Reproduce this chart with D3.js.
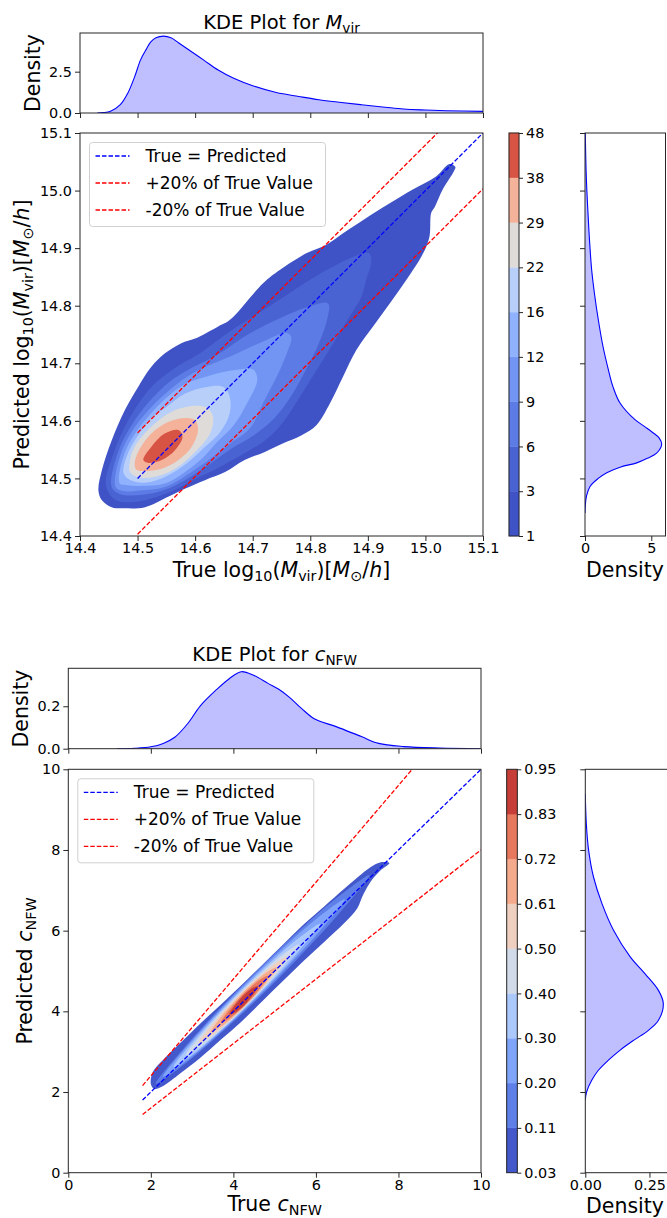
<!DOCTYPE html>
<html>
<head>
<meta charset="utf-8">
<script src="https://cdn.jsdelivr.net/npm/d3@7"></script>
<style>
  body { margin: 0; background: #fff; }
  svg { font-family: "DejaVu Sans", sans-serif; }
</style>
</head>
<body>
<svg id="chart" width="667" height="1218"></svg>
<script>
// ---------- data: virial mass panel ----------
const massTicks = [14.4, 14.5, 14.6, 14.7, 14.8, 14.9, 15.0, 15.1];

// marginal KDE of true mass (top)
const massTopX = [14.43, 14.44, 14.453, 14.47, 14.483, 14.495, 14.505, 14.515, 14.523, 14.532, 14.545,
  14.558, 14.571, 14.59, 14.615, 14.64, 14.667, 14.70, 14.741, 14.78, 14.815, 14.85, 14.889, 14.93,
  14.962, 15.0, 15.036, 15.1];
const massTopY = [0, 0.02, 0.1, 0.5, 1.2, 2.2, 3.2, 3.85, 4.3, 4.55, 4.65, 4.55, 4.25, 3.8, 3.2, 2.6, 2.1,
  1.65, 1.24, 1.0, 0.8, 0.65, 0.5, 0.35, 0.24, 0.18, 0.14, 0.1];

// marginal KDE of predicted mass (right)
const massRightY = [14.44, 14.452, 14.47, 14.486, 14.5, 14.51, 14.52, 14.527, 14.535, 14.544, 14.559,
  14.57, 14.579, 14.59, 14.602, 14.631, 14.66, 14.689, 14.73, 14.776, 14.82, 14.863, 14.91, 14.95,
  15.0, 15.036, 15.1];
const massRightX = [0, 0.02, 0.12, 0.38, 1.0, 1.64, 2.7, 3.9, 4.7, 5.4, 5.78, 5.6, 5.15, 4.5, 3.77,
  2.64, 2.1, 1.76, 1.35, 1.0, 0.72, 0.5, 0.35, 0.25, 0.14, 0.08, 0.02];

// filled density contours, outermost first (true, predicted)
const massLevels = [
  [[14.432,14.479],[14.438,14.462],[14.455,14.450],[14.478,14.448],[14.513,14.450],[14.553,14.468],
   [14.582,14.482],[14.617,14.497],[14.652,14.511],[14.686,14.532],[14.721,14.546],[14.753,14.561],
   [14.785,14.575],[14.811,14.593],[14.834,14.630],[14.857,14.677],[14.880,14.723],[14.909,14.764],
   [14.938,14.804],[14.967,14.845],[14.996,14.891],[15.007,14.920],[15.010,14.961],[15.016,14.971],
   [15.030,15.002],[15.048,15.031],[15.052,15.041],[15.042,15.046],[15.019,15.025],[14.978,15.002],
   [14.938,14.978],[14.892,14.949],[14.857,14.926],[14.828,14.906],[14.793,14.891],[14.747,14.862],
   [14.718,14.839],[14.660,14.775],[14.640,14.764],[14.600,14.743],[14.576,14.735],[14.547,14.717],
   [14.524,14.694],[14.501,14.659],[14.478,14.619],[14.455,14.566],[14.438,14.514]],
  [[14.445,14.488],[14.458,14.543],[14.484,14.601],[14.524,14.659],[14.568,14.694],[14.608,14.717],
   [14.660,14.755],[14.718,14.792],[14.776,14.830],[14.834,14.865],[14.880,14.887],[14.902,14.891],
   [14.906,14.877],[14.897,14.845],[14.889,14.816],[14.868,14.781],[14.840,14.735],[14.811,14.688],
   [14.782,14.642],[14.753,14.598],[14.724,14.568],[14.683,14.542],[14.637,14.517],[14.608,14.503],
   [14.550,14.474],[14.493,14.459],[14.461,14.463]],
  [[14.455,14.485],[14.465,14.543],[14.495,14.601],[14.545,14.659],[14.585,14.687],[14.637,14.714],
   [14.695,14.752],[14.753,14.781],[14.805,14.801],[14.831,14.804],[14.829,14.775],[14.815,14.735],
   [14.792,14.688],[14.766,14.642],[14.737,14.604],[14.702,14.575],[14.660,14.550],[14.608,14.513],
   [14.550,14.481],[14.504,14.471],[14.469,14.473]],
  [[14.462,14.485],[14.471,14.543],[14.504,14.601],[14.562,14.659],[14.608,14.689],[14.666,14.714],
   [14.718,14.738],[14.759,14.753],[14.767,14.745],[14.759,14.717],[14.747,14.688],[14.719,14.633],
   [14.695,14.587],[14.660,14.560],[14.608,14.521],[14.550,14.486],[14.504,14.479],[14.475,14.478]],
  [[14.469,14.491],[14.477,14.543],[14.513,14.601],[14.574,14.659],[14.620,14.677],[14.666,14.688],
   [14.701,14.689],[14.708,14.672],[14.690,14.630],[14.666,14.591],[14.637,14.562],[14.608,14.531],
   [14.550,14.492],[14.504,14.487],[14.481,14.488]],
  [[14.476,14.508],[14.483,14.543],[14.521,14.601],[14.550,14.624],[14.582,14.647],[14.620,14.659],
   [14.649,14.659],[14.660,14.642],[14.660,14.613],[14.644,14.581],[14.614,14.552],[14.585,14.526],
   [14.550,14.504],[14.516,14.493],[14.490,14.496]],
  [[14.487,14.532],[14.495,14.555],[14.524,14.590],[14.559,14.616],[14.594,14.626],[14.620,14.623],
   [14.631,14.607],[14.626,14.578],[14.600,14.546],[14.565,14.517],[14.530,14.503],[14.501,14.502],
   [14.487,14.511]],
  [[14.495,14.526],[14.501,14.546],[14.524,14.578],[14.553,14.598],[14.582,14.605],[14.600,14.601],
   [14.605,14.584],[14.594,14.555],[14.571,14.532],[14.542,14.517],[14.513,14.513],[14.498,14.515]],
  [[14.510,14.532],[14.524,14.555],[14.547,14.578],[14.571,14.584],[14.578,14.572],[14.565,14.549],
   [14.542,14.532],[14.519,14.527]]
];
const massColors = ["#3f53c6", "#4a63d3", "#5c7be5", "#7295f4", "#8fb1fe", "#b7cff9", "#dfdbd9", "#f5b29a", "#d75445"];
const massCbLabels = ["1", "3", "6", "9", "12", "16", "22", "29", "38", "48"];

// ---------- data: concentration panel ----------
const concTicks = [0, 2, 4, 6, 8, 10];

const concTopX = [1.18, 1.6, 2.0, 2.3, 2.58, 2.9, 3.19, 3.6, 3.9, 4.19, 4.5, 4.84, 5.1, 5.36, 5.65,
  5.97, 6.49, 7.1, 7.52, 8.13, 9.0, 10];
const concTopY = [0, 0.002, 0.009, 0.025, 0.054, 0.12, 0.20, 0.28, 0.33, 0.363, 0.345, 0.308, 0.28,
  0.242, 0.19, 0.14, 0.104, 0.057, 0.025, 0.01, 0.003, 0];

const concRightY = [1.8, 2.0, 2.29, 2.54, 2.79, 3.04, 3.28, 3.53, 3.78, 4.19, 4.52, 4.93, 5.35, 6.01,
  6.67, 7.33, 7.99, 8.65, 9.39];
const concRightX = [0, 0.005, 0.025, 0.051, 0.09, 0.136, 0.188, 0.246, 0.285, 0.304, 0.285, 0.233,
  0.175, 0.11, 0.065, 0.032, 0.013, 0.004, 0];

const concLevels = [
  [[2.0,2.2],[2.08,2.08],[2.3,2.15],[2.7,2.45],[3.2,2.85],[3.7,3.3],[4.2,3.75],[4.7,4.25],[5.2,4.75],
   [5.7,5.25],[6.2,5.72],[6.7,6.2],[7.0,6.55],[7.15,6.9],[7.35,7.25],[7.55,7.48],[7.78,7.68],[7.6,7.7],
   [7.4,7.62],[7.1,7.4],[6.7,7.05],[6.2,6.6],[5.7,6.15],[5.2,5.65],[4.7,5.15],[4.2,4.65],[3.7,4.17],
   [3.2,3.7],[2.7,3.2],[2.3,2.8],[2.05,2.5]],
  [[2.12,2.2],[2.897,2.754],[3.933,3.678],[4.71,4.43],[5.487,5.232],[6.523,6.38],[7.3,7.38],
   [6.523,6.826],[5.487,5.902],[4.71,5.15],[3.933,4.348],[2.897,3.2]],
  [[2.3,2.38],[2.96,2.848],[3.84,3.632],[4.5,4.27],[5.16,4.952],[6.04,5.928],[6.7,6.78],
   [6.04,6.312],[5.16,5.528],[4.5,4.89],[3.84,4.208],[2.96,3.232]],
  [[2.55,2.62],[3.083,2.986],[3.793,3.612],[4.325,4.125],[4.858,4.677],[5.568,5.471],[6.1,6.17],
   [5.568,5.805],[4.858,5.179],[4.325,4.665],[3.793,4.114],[3.083,3.32]],
  [[2.85,2.91],[3.263,3.174],[3.813,3.65],[4.225,4.045],[4.638,4.475],[5.188,5.099],[5.6,5.66],
   [5.188,5.397],[4.638,4.921],[4.225,4.525],[3.813,4.096],[3.263,3.472]],
  [[3.15,3.2],[3.473,3.393],[3.903,3.758],[4.225,4.065],[4.548,4.403],[4.978,4.898],[5.3,5.35],
   [4.978,5.158],[4.548,4.793],[4.225,4.485],[3.903,4.148],[3.473,3.653]],
  [[3.45,3.49],[3.69,3.612],[4.01,3.873],[4.25,4.10],[4.49,4.353],[4.81,4.732],[5.05,5.09],
   [4.81,4.968],[4.49,4.707],[4.25,4.48],[4.01,4.227],[3.69,3.848]],
  [[3.7,3.73],[3.873,3.804],[4.103,3.984],[4.275,4.145],[4.448,4.329],[4.678,4.609],[4.85,4.88],
   [4.678,4.807],[4.448,4.627],[4.275,4.465],[4.103,4.282],[3.873,4.002]],
  [[3.9,3.92],[4.005,3.944],[4.145,4.044],[4.25,4.14],[4.355,4.254],[4.495,4.434],[4.6,4.62],
   [4.495,4.596],[4.355,4.496],[4.25,4.40],[4.145,4.286],[4.005,4.106]]
];
const concColors = ["#4358cb", "#5e7fe8", "#81a4fb", "#abc8fd", "#d1dae9", "#efcfbf", "#f5aa8c", "#e8785d", "#c73e38"];
const concCbLabels = ["0.03", "0.11", "0.20", "0.30", "0.40", "0.50", "0.61", "0.72", "0.83", "0.95"];

// reference lines: "True = Predicted" and the ±20 % band
const lineNames = ["True = Predicted", "+20% of True Value", "-20% of True Value"];
const lineColors = ["blue", "red", "red"];
const lineFactors = [1, 1.2, 0.8];
const massLineX = [14.5, 15.1];
const concLineX = [1.8, 10];

// ---------- drawing ----------
const svg = d3.select("#chart");
const INK = "#262626";

function richText(g, x, y, parts, size, rotate) {
  const t = g.append("text")
    .attr("x", x).attr("y", y)
    .attr("font-size", size)
    .attr("text-anchor", "middle")
    .attr("fill", "#000");
  if (rotate) t.attr("transform", `rotate(-90,${x},${y})`);
  let shift = 0;
  parts.forEach(([str, kind]) => {
    const sub = kind.includes("s");
    const target = sub ? size * 0.2 : 0;
    const ts = t.append("tspan").text(str).attr("dy", target - shift);
    shift = target;
    if (sub) ts.attr("font-size", size * 0.7);
    if (kind.includes("i")) ts.attr("font-style", "italic");
  });
  return t;
}

function styleAxis(g) {
  g.attr("font-family", null).attr("font-size", 14.4);
  g.select(".domain").remove();
  g.selectAll(".tick line").attr("stroke", INK);
  g.selectAll(".tick text").attr("fill", "#000");
}

function frame(g, x0, y0, x1, y1) {
  g.append("rect")
    .attr("x", x0).attr("y", y0)
    .attr("width", x1 - x0).attr("height", y1 - y0)
    .attr("fill", "none").attr("stroke", INK).attr("stroke-width", 1);
}

let clipId = 0;
function clipBox(x0, y0, x1, y1) {
  const id = "clip" + (clipId++);
  svg.append("clipPath").attr("id", id)
    .append("rect").attr("x", x0).attr("y", y0).attr("width", x1 - x0).attr("height", y1 - y0);
  return `url(#${id})`;
}

const smooth = d3.curveCatmullRom.alpha(0.5);

function drawPanel(p) {
  const g = svg.append("g");
  const [mT, mB] = p.mainY;
  const x = d3.scaleLinear().domain(p.dom).range([p.L, p.R]);
  const y = d3.scaleLinear().domain(p.dom).range([mB, mT]);

  // title
  richText(g, (p.L + p.R) / 2, p.titleY, p.title, 19.5);

  // --- top marginal ---
  const [tT, tB] = p.topY;
  const ty = d3.scaleLinear().domain(p.topDom).range([tB, tT]);
  const topData = p.topX.map((v, i) => [v, p.topV[i]]);
  const tg = g.append("g").attr("clip-path", clipBox(p.L, tT, p.R, tB));
  tg.append("path").datum(topData)
    .attr("d", d3.area().x(d => x(d[0])).y0(ty(0)).y1(d => ty(d[1])).curve(smooth))
    .attr("fill", "rgba(0,0,255,0.25)");
  tg.append("path").datum(topData)
    .attr("d", d3.line().x(d => x(d[0])).y(d => ty(d[1])).curve(smooth))
    .attr("fill", "none").attr("stroke", "blue").attr("stroke-width", 1.1);
  frame(g, p.L, tT, p.R, tB);
  g.append("g").attr("transform", `translate(0,${tB})`)
    .call(d3.axisBottom(x).tickValues(p.ticks).tickSize(5).tickFormat(""))
    .call(styleAxis);
  g.append("g").attr("transform", `translate(${p.L},0)`)
    .call(d3.axisLeft(ty).tickValues(p.topTicks).tickSize(5).tickPadding(3).tickFormat(d3.format(p.topFmt)))
    .call(styleAxis);
  richText(g, p.topLabelX, (tT + tB) / 2, [["Density", "n"]], 20.5, true);

  // --- main joint KDE ---
  const mg = g.append("g").attr("clip-path", clipBox(p.L, mT, p.R, mB));
  const contour = d3.line().x(d => x(d[0])).y(d => y(d[1])).curve(d3.curveCatmullRomClosed.alpha(0.5));
  mg.selectAll("path.level").data(p.levels).join("path")
    .attr("class", "level")
    .attr("d", contour)
    .attr("fill", (d, i) => p.colors[i]);
  lineFactors.forEach((f, i) => {
    const pts = p.lineX.map(v => [v, p.ref(v, f)]);
    mg.append("path").datum(pts)
      .attr("d", d3.line().x(d => x(d[0])).y(d => y(d[1])))
      .attr("fill", "none").attr("stroke", lineColors[i])
      .attr("stroke-width", 1.3).attr("stroke-dasharray", "4.5,2");
  });
  frame(g, p.L, mT, p.R, mB);
  g.append("g").attr("transform", `translate(0,${mB})`)
    .call(d3.axisBottom(x).tickValues(p.ticks).tickSize(5).tickPadding(2).tickFormat(d3.format(p.fmt)))
    .call(styleAxis);
  g.append("g").attr("transform", `translate(${p.L},0)`)
    .call(d3.axisLeft(y).tickValues(p.ticks).tickSize(5).tickPadding(3).tickFormat(d3.format(p.fmt)))
    .call(styleAxis);
  richText(g, (p.L + p.R) / 2, p.xLabelY, p.xLabel, 20.5);
  richText(g, p.yLabelX, (mT + mB) / 2, p.yLabel, 20.5, true);

  // legend
  const lg = g.append("g").attr("transform", `translate(${p.L + 9.5},${mT + 9.5})`);
  lg.append("rect").attr("width", 236).attr("height", 84).attr("rx", 3)
    .attr("fill", "rgba(255,255,255,0.8)").attr("stroke", "#d0d0d0");
  lineNames.forEach((name, i) => {
    const yy = 13.5 + i * 27;
    lg.append("line").attr("x1", 6).attr("x2", 40).attr("y1", yy).attr("y2", yy)
      .attr("stroke", lineColors[i]).attr("stroke-width", 1.3).attr("stroke-dasharray", "4.5,2");
    lg.append("text").attr("x", 56).attr("y", yy).attr("dy", "0.36em")
      .attr("font-size", 17).text(name);
  });

  // --- colorbar ---
  const [cL, cR] = p.cbX;
  const n = p.cbLabels.length;
  const cy = d3.scaleLinear().domain([0, n - 1]).range([mB, mT]);
  g.append("g").selectAll("rect").data(p.colors).join("rect")
    .attr("x", cL).attr("width", cR - cL)
    .attr("y", (d, i) => cy(i + 1)).attr("height", (d, i) => cy(i) - cy(i + 1))
    .attr("fill", d => d).attr("stroke", d => d).attr("stroke-width", 0.4);
  frame(g, cL, mT, cR, mB);
  g.append("g").attr("transform", `translate(${cR},0)`)
    .call(d3.axisRight(cy).tickValues(d3.range(n)).tickSize(4).tickPadding(3).tickFormat(i => p.cbLabels[i]))
    .call(styleAxis);

  // --- right marginal ---
  const [rL, rR] = p.rightX;
  const rx = d3.scaleLinear().domain(p.rightDom).range([rL, rR]);
  const rightData = p.rightY.map((v, i) => [p.rightV[i], v]);
  const rg = g.append("g").attr("clip-path", clipBox(rL, mT, 667, mB));
  rg.append("path").datum(rightData)
    .attr("d", d3.area().y(d => y(d[1])).x0(rx(0)).x1(d => rx(d[0])).curve(smooth))
    .attr("fill", "rgba(0,0,255,0.25)");
  rg.append("path").datum(rightData)
    .attr("d", d3.line().y(d => y(d[1])).x(d => rx(d[0])).curve(smooth))
    .attr("fill", "none").attr("stroke", "blue").attr("stroke-width", 1.1);
  frame(g, rL, mT, rR, mB);
  g.append("g").attr("transform", `translate(0,${mB})`)
    .call(d3.axisBottom(rx).tickValues(p.rightTicks).tickSize(5).tickPadding(2).tickFormat(d3.format(p.rightFmt)))
    .call(styleAxis);
  g.append("g").attr("transform", `translate(${rL},0)`)
    .call(d3.axisLeft(y).tickValues(p.ticks).tickSize(5).tickFormat(""))
    .call(styleAxis);
  richText(g, 625, p.densLabelY, [["Density", "n"]], 20.5);
}

drawPanel({
  title: [["KDE Plot for ", "n"], ["M", "i"], ["vir", "s"]], titleY: 29,
  L: 80, R: 483, topY: [33, 113], mainY: [133, 536], cbX: [509, 519], rightX: [585, 665.5],
  dom: [14.4, 15.1], ticks: massTicks, fmt: ".1f",
  topX: massTopX, topV: massTopY, topDom: [0, 4.84], topTicks: [0, 2.5], topFmt: ".1f", topLabelX: 40,
  rightY: massRightY, rightV: massRightX, rightDom: [0, 6.07], rightTicks: [0, 5], rightFmt: "d",
  levels: massLevels, colors: massColors, cbLabels: massCbLabels,
  lineX: massLineX, ref: (v, f) => v + Math.log10(f),
  xLabel: [["True log", "n"], ["10", "s"], ["(", "n"], ["M", "i"], ["vir", "s"], [")[", "n"], ["M", "i"], ["\u2299", "s"], ["/", "n"], ["h", "i"], ["]", "n"]],
  yLabel: [["Predicted log", "n"], ["10", "s"], ["(", "n"], ["M", "i"], ["vir", "s"], [")[", "n"], ["M", "i"], ["\u2299", "s"], ["/", "n"], ["h", "i"], ["]", "n"]],
  xLabelY: 577, yLabelX: 29, densLabelY: 577
});

drawPanel({
  title: [["KDE Plot for ", "n"], ["c", "i"], ["NFW", "s"]], titleY: 661,
  L: 68.3, R: 481, topY: [668.3, 748.7], mainY: [769.3, 1172.7], cbX: [506.7, 517.3], rightX: [585.3, 670],
  dom: [0, 10], ticks: concTicks, fmt: "d",
  topX: concTopX, topV: concTopY, topDom: [0, 0.379], topTicks: [0, 0.2], topFmt: ".1f", topLabelX: 28,
  rightY: concRightY, rightV: concRightX, rightDom: [0, 0.33], rightTicks: [0, 0.25], rightFmt: ".2f",
  levels: concLevels, colors: concColors, cbLabels: concCbLabels,
  lineX: concLineX, ref: (v, f) => v * f,
  xLabel: [["True ", "n"], ["c", "i"], ["NFW", "s"]],
  yLabel: [["Predicted ", "n"], ["c", "i"], ["NFW", "s"]],
  xLabelY: 1211, yLabelX: 31.5, densLabelY: 1213
});
</script>
</body>
</html>
